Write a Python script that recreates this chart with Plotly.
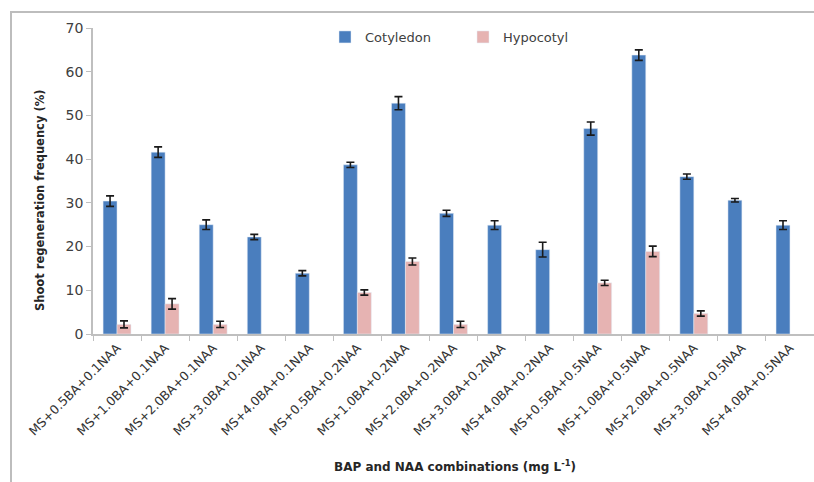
import plotly.graph_objects as go

# Treatment combinations (MS medium + BA + NAA, mg/L)
categories = [
    "MS+0.5BA+0.1NAA", "MS+1.0BA+0.1NAA", "MS+2.0BA+0.1NAA", "MS+3.0BA+0.1NAA",
    "MS+4.0BA+0.1NAA", "MS+0.5BA+0.2NAA", "MS+1.0BA+0.2NAA", "MS+2.0BA+0.2NAA",
    "MS+3.0BA+0.2NAA", "MS+4.0BA+0.2NAA", "MS+0.5BA+0.5NAA", "MS+1.0BA+0.5NAA",
    "MS+2.0BA+0.5NAA", "MS+3.0BA+0.5NAA", "MS+4.0BA+0.5NAA",
]

# Shoot regeneration frequency (%) and standard errors
cotyledon = [30.4, 41.6, 25.0, 22.2, 13.9, 38.7, 52.8, 27.6, 24.9, 19.3, 47.0, 63.8, 36.0, 30.6, 24.9]
cotyledon_err = [1.2, 1.2, 1.1, 0.6, 0.6, 0.6, 1.5, 0.7, 1.0, 1.7, 1.5, 1.2, 0.6, 0.4, 1.0]

hypocotyl = [2.2, 6.9, 2.2, None, None, 9.5, 16.6, 2.2, None, None, 11.7, 18.9, 4.7, None, None]
hypocotyl_err = [0.8, 1.2, 0.7, None, None, 0.6, 0.8, 0.7, None, None, 0.6, 1.2, 0.6, None, None]

y_ticks = [0, 10, 20, 30, 40, 50, 60, 70]

BLUE = "#4A7EBE"
PINK = "#E6B3B2"
AXIS = "#BFBFBF"
FONT = "DejaVu Sans"

fig = go.Figure()
fig.add_trace(go.Bar(
    name="Cotyledon", x=categories, y=cotyledon, marker_color=BLUE,
    error_y=dict(type="data", array=cotyledon_err, color="#1a1a1a", thickness=1.6, width=4),
))
fig.add_trace(go.Bar(
    name="Hypocotyl", x=categories, y=hypocotyl, marker_color=PINK,
    error_y=dict(type="data", array=hypocotyl_err, color="#1a1a1a", thickness=1.6, width=4),
))

W, H = 814, 482
L, R, T, B = 93, 0, 28, 148
pw, ph = W - L - R, H - T - B


def px(x):
    return (x - L) / pw


def py(y):
    return (H - B - y) / ph


fig.update_layout(
    width=W, height=H,
    margin=dict(l=L, r=R, t=T, b=B, autoexpand=False),
    paper_bgcolor="white", plot_bgcolor="white",
    barmode="group", bargap=0.42, bargroupgap=0.0,
    font=dict(family=FONT, color="#404040"),
    showlegend=True,
    legend=dict(
        orientation="h", x=px(325), y=py(37), xanchor="left", yanchor="middle",
        font=dict(size=13, color="#404040", family=FONT), entrywidth=93, entrywidthmode="pixels",
        bgcolor="rgba(0,0,0,0)",
    ),
    xaxis=dict(
        type="category", tickangle=-45, tickson="boundaries",
        ticks="outside", ticklen=5, tickcolor=AXIS,
        showline=True, linecolor=AXIS, linewidth=1.5,
        tickfont=dict(size=12.5, color="#333333", family=FONT),
        showgrid=False, fixedrange=True,
    ),
    yaxis=dict(
        range=[0, 70], tickvals=y_ticks, ticks="outside", ticklen=5, tickcolor=AXIS,
        showline=True, linecolor=AXIS, linewidth=1.5,
        tickfont=dict(size=14, color="#404040", family=FONT),
        showgrid=False, zeroline=False, fixedrange=True,
    ),
    annotations=[
        dict(
            text="<b>Shoot regeneration frequency (%)</b>", textangle=-90,
            xref="paper", yref="paper", x=px(40), y=py(201),
            xanchor="center", yanchor="middle", showarrow=False,
            font=dict(size=11.5, color="#262626", family=FONT),
        ),
        dict(
            text="<b>BAP and NAA combinations (mg L<sup>-1</sup>)</b>",
            xref="paper", yref="paper", x=px(455), y=py(466),
            xanchor="center", yanchor="middle", showarrow=False,
            font=dict(size=12, color="#262626", family=FONT),
        ),
    ],
    shapes=[
        dict(
            type="path", xref="paper", yref="paper",
            path=f"M {px(11)},{py(H)} L {px(11)},{py(12)} L {px(W)},{py(12)}",
            line=dict(color="#BDBDBD", width=2),
        ),
    ],
)

fig.write_html("out.html")
